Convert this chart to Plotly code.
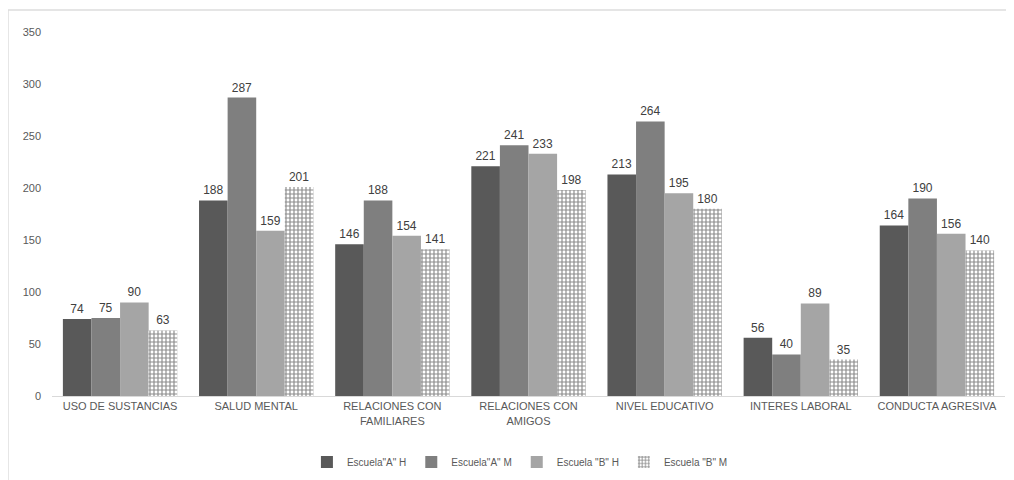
import plotly.graph_objects as go

categories = ["USO DE SUSTANCIAS", "SALUD MENTAL", "RELACIONES CON<br>FAMILIARES",
              "RELACIONES CON<br>AMIGOS", "NIVEL EDUCATIVO", "INTERES LABORAL",
              "CONDUCTA AGRESIVA"]
series_names = ['Escuela"A" H', 'Escuela"A" M', 'Escuela "B" H', 'Escuela "B" M']
esc_a_h = [74, 188, 146, 221, 213, 56, 164]
esc_a_m = [75, 287, 188, 241, 264, 40, 190]
esc_b_h = [90, 159, 154, 233, 195, 89, 156]
esc_b_m = [63, 201, 141, 198, 180, 35, 140]
y_ticks = [0, 50, 100, 150, 200, 250, 300, 350]

font = "Liberation Sans"
fig = go.Figure()
colors = ["#595959", "#7f7f7f", "#a5a5a5"]
for name, vals, col in zip(series_names[:3], [esc_a_h, esc_a_m, esc_b_h], colors):
    fig.add_trace(go.Bar(x=categories, y=vals, name=name, marker_color=col,
                         marker_line_width=0, text=vals, textposition="outside",
                         textfont=dict(size=12, color="#404040", family=font),
                         cliponaxis=False))
fig.add_trace(go.Bar(x=categories, y=esc_b_m, name=series_names[3],
                     marker=dict(color="white", line_width=0,
                                 pattern=dict(shape="+", fgcolor="#8c8c8c", bgcolor="white",
                                              size=4, solidity=0.5)),
                     text=esc_b_m, textposition="outside",
                     textfont=dict(size=12, color="#404040", family=font),
                     cliponaxis=False))

fig.update_layout(
    template="none",
    width=1014, height=480,
    margin=dict(l=44, r=17, t=24, b=92, autoexpand=False),
    paper_bgcolor="white", plot_bgcolor="white",
    barmode="group", bargap=0.16, bargroupgap=0,
    font=dict(family=font, size=11, color="#595959"),
    showlegend=True,
    legend=dict(orientation="h", x=0.491, xanchor="center", y=-0.181, yanchor="middle",
                font=dict(size=10, color="#595959", family=font),
                itemwidth=30, traceorder="normal", bgcolor="rgba(0,0,0,0)"),
    uniformtext=dict(minsize=8, mode="show"),
)
fig.update_yaxes(range=[0, 350], tickvals=y_ticks, showgrid=False, zeroline=False,
                 showline=False, ticks="", automargin=False, ticklabelstandoff=10,
                 color="#595959", tickfont=dict(size=11, color="#595959", family=font))
fig.update_xaxes(showline=True, linecolor="#d9d9d9", linewidth=1, ticks="", automargin=False,
                 showgrid=False, tickfont=dict(size=11, color="#595959", family=font))
fig.add_shape(type="line", xref="paper", yref="paper", x0=-0.0462, x1=1.0094, y0=1.0604, y1=1.0604,
              line=dict(color="#dcdcdc", width=1.5), layer="above")
fig.add_shape(type="line", xref="paper", yref="paper", x0=-0.0462, x1=-0.0462, y0=-0.2308, y1=1.0604,
              line=dict(color="#dcdcdc", width=1.5), layer="above")
fig.write_html("out.html")
